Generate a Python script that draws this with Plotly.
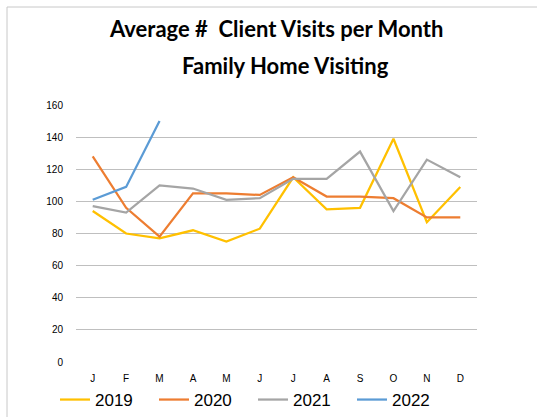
import plotly.graph_objects as go

months = ["J", "F", "M", "A", "M", "J", "J", "A", "S", "O", "N", "D"]
y2019 = [94, 80, 77, 82, 75, 83, 115, 95, 96, 139, 87, 109]
y2020 = [128, 96, 78, 105, 105, 104, 115, 103, 103, 102, 90, 90]
y2021 = [97, 93, 110, 108, 101, 102, 114, 114, 131, 94, 126, 115]
y2022 = [101, 109, 150]
series = [("2019", y2019, "#FFC000"), ("2020", y2020, "#ED7D31"),
          ("2021", y2021, "#A5A5A5"), ("2022", y2022, "#5B9BD5")]
yticks = [0, 20, 40, 60, 80, 100, 120, 140, 160]
title1 = "Average #  Client Visits per Month"
title2 = "Family Home Visiting"

fig = go.Figure()
for name, vals, col in series:
    fig.add_trace(go.Scatter(x=list(range(len(vals))), y=vals, name=name, mode="lines",
                             line=dict(color=col, width=2.25)))

W, H = 537, 417
ml, mr, mt, mb = 76, 60, 105, 55
pw, ph = W - ml - mr, H - mt - mb

def px(x):
    return (x - ml) / pw

def py(y):
    return (H - mb - y) / ph

fig.update_layout(
    width=W, height=H, margin=dict(l=ml, r=mr, t=mt, b=mb, autoexpand=False),
    paper_bgcolor="white", plot_bgcolor="white",
    font=dict(family="Liberation Sans, Arial", color="#000000"),
    showlegend=True,
    legend=dict(orientation="h", x=px(55), xanchor="left", y=py(400), yanchor="middle",
                font=dict(size=17, color="#000000"), entrywidth=54, entrywidthmode="pixels",
                itemwidth=30, tracegroupgap=0, bgcolor="rgba(0,0,0,0)"),
    xaxis=dict(range=[-0.5, 11.5], tickvals=list(range(12)), ticktext=months,
               showgrid=False, zeroline=False, showline=False, ticks="",
               tickfont=dict(size=10, color="#000000"), ticklabelstandoff=9),
    yaxis=dict(range=[0, 160], tickvals=yticks, showgrid=True, gridcolor="#BFBFBF",
               gridwidth=1, zeroline=False, showline=False, ticks="",
               tickfont=dict(size=10, color="#000000"), ticklabelstandoff=12),
    annotations=[
        dict(text="<b>" + title1 + "</b>", x=px(276), y=py(29), xref="paper", yref="paper",
             showarrow=False, xanchor="center", yanchor="middle",
             font=dict(family="Lato, Liberation Sans, Arial", size=22, color="#000000")),
        dict(text="<b>" + title2 + "</b>", x=px(285), y=py(65), xref="paper", yref="paper",
             showarrow=False, xanchor="center", yanchor="middle",
             font=dict(family="Lato, Liberation Sans, Arial", size=22, color="#000000")),
    ],
    shapes=[
        dict(type="line", xref="paper", yref="paper", x0=px(7), x1=px(7), y0=py(7), y1=py(430),
             line=dict(color="#C8C8C8", width=1)),
        dict(type="line", xref="paper", yref="paper", x0=px(7), x1=px(560), y0=py(7), y1=py(7),
             line=dict(color="#C8C8C8", width=1)),
    ],
)

fig.write_html("out.html", config={"displayModeBar": False},
               post_script="document.body.style.margin='0';")
